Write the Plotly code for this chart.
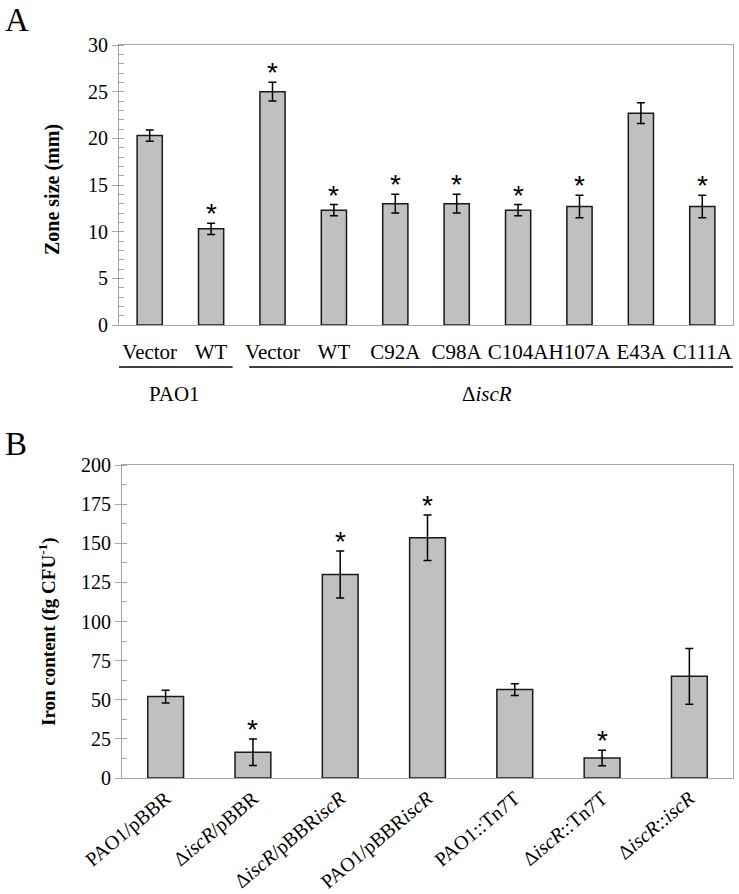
import plotly.graph_objects as go

# ---------------- Data ----------------
# Panel A
a_categories = ["Vector", "WT", "Vector", "WT", "C92A", "C98A", "C104A", "H107A", "E43A", "C111A"]
a_values = [20.3, 10.3, 25.0, 12.3, 13.0, 13.0, 12.3, 12.7, 22.7, 12.7]
a_errors = [0.6, 0.6, 1.0, 0.6, 1.0, 1.0, 0.6, 1.2, 1.1, 1.2]
a_signif = [False, True, True, True, True, True, True, True, False, True]
a_groups = ["PAO1", "Δ<i>iscR</i>"]
a_ticks = [0, 5, 10, 15, 20, 25, 30]

# Panel B
b_categories = ["PAO1/pBBR", "Δ<i>iscR</i>/pBBR", "Δ<i>iscR</i>/pBBR<i>iscR</i>",
                "PAO1/pBBR<i>iscR</i>", "PAO1::Tn7T", "Δ<i>iscR</i>::Tn7T", "Δ<i>iscR</i>::<i>iscR</i>"]
b_values = [52.0, 16.5, 130.0, 153.5, 56.5, 12.8, 65.0]
b_errors = [4.0, 8.5, 15.0, 14.5, 3.8, 5.0, 17.8]
b_signif = [False, True, True, True, False, True, False]
b_ticks = [0, 25, 50, 75, 100, 125, 150, 175, 200]

# ---------------- Layout helpers ----------------
W, H = 739, 894
SERIF = "Liberation Serif, Times New Roman, serif"
GRAY = "#A6A6A6"
BAR_FILL = "#C0C0C0"


def px_x(p):
    return p / W


def px_y(p):
    return 1 - p / H


fig = go.Figure()

a_x = list(range(len(a_categories)))
b_x = list(range(len(b_categories)))

fig.add_trace(go.Bar(
    x=a_x, y=a_values,
    error_y=dict(type="data", array=a_errors, color="black", thickness=1.5, width=4),
    marker=dict(color=BAR_FILL, line=dict(color="#1a1a1a", width=1.5)),
    xaxis="x", yaxis="y", showlegend=False,
))
fig.add_trace(go.Bar(
    x=b_x, y=b_values,
    error_y=dict(type="data", array=b_errors, color="black", thickness=1.5, width=4),
    marker=dict(color=BAR_FILL, line=dict(color="#1a1a1a", width=1.5)),
    xaxis="x2", yaxis="y2", showlegend=False,
))

common_y = dict(
    showline=True, linecolor=GRAY, linewidth=1.2, mirror=True,
    ticks="outside", ticklen=6, tickcolor=GRAY, tickwidth=1.2,
    showgrid=False, zeroline=False, automargin=False,
    tickfont=dict(family=SERIF, size=20, color="black"),
)

fig.update_layout(
    width=W, height=H,
    margin=dict(l=0, r=0, t=0, b=0),
    plot_bgcolor="white", paper_bgcolor="white",
    bargap=0.59,
    xaxis=dict(
        domain=[px_x(119), px_x(733)], anchor="y",
        range=[-0.5, len(a_categories) - 0.5],
        tickmode="array", tickvals=a_x, ticktext=a_categories,
        tickangle=0, automargin=False, ticklabelstandoff=8,
        tickfont=dict(family=SERIF, size=21, color="black"),
        showline=True, linecolor=GRAY, linewidth=1.2, mirror=True,
        ticks="", showgrid=False, zeroline=False,
    ),
    yaxis=dict(
        domain=[px_y(325), px_y(45)], anchor="x",
        range=[0, 30], tickmode="array", tickvals=a_ticks,
        minor=dict(dtick=1, ticks="inside", ticklen=5, tickcolor=GRAY, tickwidth=1.2),
        **common_y,
    ),
    xaxis2=dict(
        domain=[px_x(122), px_x(733)], anchor="y2",
        range=[-0.5, len(b_categories) - 0.5],
        tickmode="array", tickvals=b_x, ticktext=b_categories,
        tickangle=-40, automargin=False,
        tickfont=dict(family=SERIF, size=20, color="black"),
        showline=True, linecolor=GRAY, linewidth=1.2, mirror=True,
        ticks="", showgrid=False, zeroline=False,
    ),
    yaxis2=dict(
        domain=[px_y(778), px_y(465)], anchor="x2",
        range=[0, 200], tickmode="array", tickvals=b_ticks,
        minor=dict(dtick=12.5, ticks="inside", ticklen=5, tickcolor=GRAY, tickwidth=1.2),
        **common_y,
    ),
)

annotations = []
STAR_FONT = dict(family="Liberation Sans, Arial", size=28, color="black")
# significance asterisks
for xi, v, e, s in zip(a_x, a_values, a_errors, a_signif):
    if s:
        annotations.append(dict(x=xi, y=v + e, xref="x", yref="y", text="*", showarrow=False,
                                yanchor="bottom", yshift=-8, font=STAR_FONT))
for xi, v, e, s in zip(b_x, b_values, b_errors, b_signif):
    if s:
        annotations.append(dict(x=xi, y=v + e, xref="x2", yref="y2", text="*", showarrow=False,
                                yanchor="bottom", yshift=-8, font=STAR_FONT))

# axis titles
annotations.append(dict(x=px_x(52), y=px_y(190), xref="paper", yref="paper",
                        xanchor="center", yanchor="middle",
                        text="<b>Zone size (mm)</b>", textangle=-90, showarrow=False,
                        font=dict(family=SERIF, size=20, color="black")))
annotations.append(dict(x=px_x(47), y=px_y(632), xref="paper", yref="paper",
                        xanchor="center", yanchor="middle",
                        text="<b>Iron content (fg CFU<sup>-1</sup>)</b>", textangle=-90, showarrow=False,
                        font=dict(family=SERIF, size=19, color="black")))

# panel letters
annotations.append(dict(x=px_x(3), y=px_y(0), xref="paper", yref="paper", text="A",
                        xanchor="left", yanchor="top", showarrow=False,
                        font=dict(family=SERIF, size=33, color="black")))
annotations.append(dict(x=px_x(3), y=px_y(424), xref="paper", yref="paper", text="B",
                        xanchor="left", yanchor="top", showarrow=False,
                        font=dict(family=SERIF, size=33, color="black")))

# group labels for panel A
annotations.append(dict(x=0.4, y=px_y(394), xref="x", yref="paper", text=a_groups[0],
                        showarrow=False, font=dict(family=SERIF, size=21, color="black")))
annotations.append(dict(x=5.5, y=px_y(394), xref="x", yref="paper", text=a_groups[1],
                        showarrow=False, font=dict(family=SERIF, size=21, color="black")))

shapes = [
    dict(type="line", xref="x", yref="paper", x0=-0.5, x1=1.35, y0=px_y(367), y1=px_y(367),
         line=dict(color="black", width=1.5)),
    dict(type="line", xref="x", yref="paper", x0=1.62, x1=9.5, y0=px_y(367), y1=px_y(367),
         line=dict(color="black", width=1.5)),
]

fig.update_layout(annotations=annotations, shapes=shapes)

fig.write_html("out.html", config={"displayModeBar": False},
               post_script="document.body.style.margin='0';")
